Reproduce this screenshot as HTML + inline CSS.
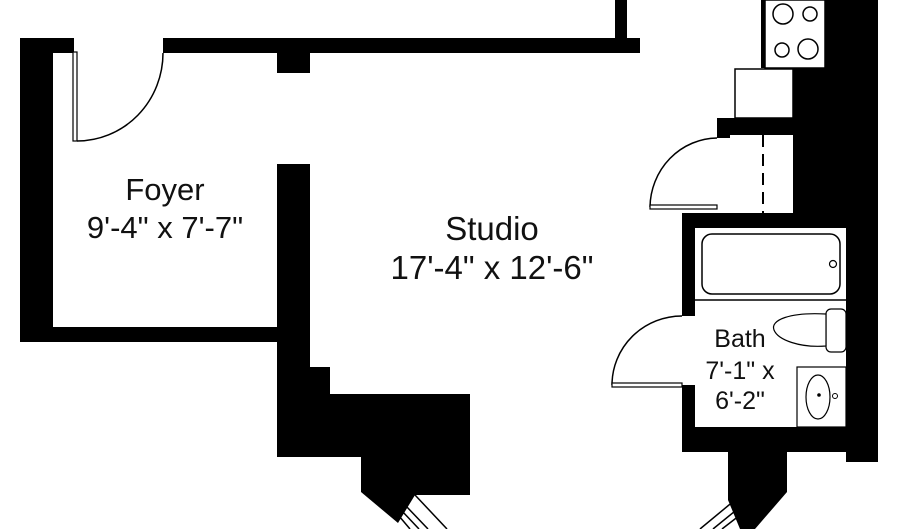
<!DOCTYPE html>
<html><head><style>body{margin:0;background:#fff}svg{display:block}</style></head>
<body>
<svg width="900" height="529" viewBox="0 0 900 529" xmlns="http://www.w3.org/2000/svg">
<rect width="900" height="529" fill="#fff"/>
<g fill="#000">
<rect x="20" y="38" width="33" height="304"/>
<rect x="52" y="38" width="22" height="15"/>
<rect x="163" y="38" width="477" height="15"/>
<rect x="615" y="0" width="12" height="40"/>
<rect x="277" y="53" width="33" height="20"/>
<rect x="52" y="327" width="225" height="15"/>
<polygon points="277,164 310,164 310,367 330,367 330,394 470,394 470,495 415,495 398,523 361,492 361,457 277,457"/>
<polygon points="825,0 878,0 878,462 846,462 846,452 787,452 787,492 755,529 740,529 728,500 728,452 682,452 682,385 695,385 695,427 846,427 846,228 695,228 695,316 682,316 682,213 793,213 793,135 730,135 730,138 717,138 717,118 793,118 793,68 825,68"/>
</g>
<rect x="73" y="52" width="4" height="89" fill="#fff" stroke="#000" stroke-width="1.2"/>
<path d="M77,141 A86,88 0 0 0 163,53" fill="none" stroke="#000" stroke-width="1.5"/>
<line x1="763" y1="0" x2="763" y2="68" stroke="#000" stroke-width="4"/>
<rect x="765" y="0" width="60" height="68" fill="#fff" stroke="#000" stroke-width="1.5"/>
<circle cx="783" cy="14" r="10" fill="none" stroke="#000" stroke-width="1.5"/>
<circle cx="810" cy="14" r="7" fill="none" stroke="#000" stroke-width="1.5"/>
<circle cx="782" cy="50" r="7" fill="none" stroke="#000" stroke-width="1.5"/>
<circle cx="808" cy="49" r="10" fill="none" stroke="#000" stroke-width="1.5"/>
<rect x="735" y="69" width="58" height="49" fill="#fff" stroke="#000" stroke-width="1.5"/>
<line x1="763" y1="135" x2="763" y2="213" stroke="#000" stroke-width="2" stroke-dasharray="12,7"/>
<path d="M717,138 A68,70 0 0 0 650,207" fill="none" stroke="#000" stroke-width="1.5"/>
<rect x="650" y="205" width="67" height="4" fill="#fff" stroke="#000" stroke-width="1.2"/>
<line x1="695" y1="300" x2="846" y2="300" stroke="#000" stroke-width="1.5"/>
<rect x="702" y="234" width="138" height="60" rx="10" fill="none" stroke="#000" stroke-width="1.5"/>
<circle cx="833" cy="264" r="3.5" fill="none" stroke="#000" stroke-width="1.2"/>
<rect x="826" y="309" width="20" height="43" rx="5" fill="#fff" stroke="#000" stroke-width="1.2"/>
<path d="M826,314 C790,312 770,320 774,330 C778,340 800,348 826,346 Z" fill="#fff" stroke="#000" stroke-width="1.2"/>
<rect x="797" y="367" width="49" height="60" fill="#fff" stroke="#000" stroke-width="1.2"/>
<ellipse cx="818" cy="397" rx="12" ry="22" fill="none" stroke="#000" stroke-width="1.2"/>
<circle cx="819" cy="395" r="1.8"/>
<circle cx="835" cy="396" r="2.5" fill="none" stroke="#000"/>
<path d="M682,316 A70,69 0 0 0 612,385" fill="none" stroke="#000" stroke-width="1.5"/>
<rect x="612" y="383" width="70" height="4" fill="#fff" stroke="#000" stroke-width="1.2"/>
<g stroke="#000" stroke-width="1.5" fill="none">
<line x1="415" y1="495" x2="447" y2="529"/>
<line x1="406" y1="506" x2="428" y2="529"/>
<line x1="402" y1="511" x2="419" y2="529"/>
<line x1="399" y1="516" x2="410" y2="529"/>
<line x1="735" y1="500" x2="700" y2="529"/>
<line x1="740" y1="507" x2="713" y2="529"/>
<line x1="744" y1="512" x2="722" y2="529"/>
</g>
<g font-family="Liberation Sans, sans-serif" fill="#111" text-anchor="middle">
<text x="165" y="200" font-size="31">Foyer</text>
<text x="165" y="238" font-size="31">9'-4" x 7'-7"</text>
<text x="492" y="240" font-size="33">Studio</text>
<text x="492" y="279" font-size="33">17'-4" x 12'-6"</text>
<text x="740" y="347" font-size="25">Bath</text>
<text x="740" y="379" font-size="25">7'-1" x</text>
<text x="740" y="409" font-size="25">6'-2"</text>
</g>
</svg>
</body></html>
